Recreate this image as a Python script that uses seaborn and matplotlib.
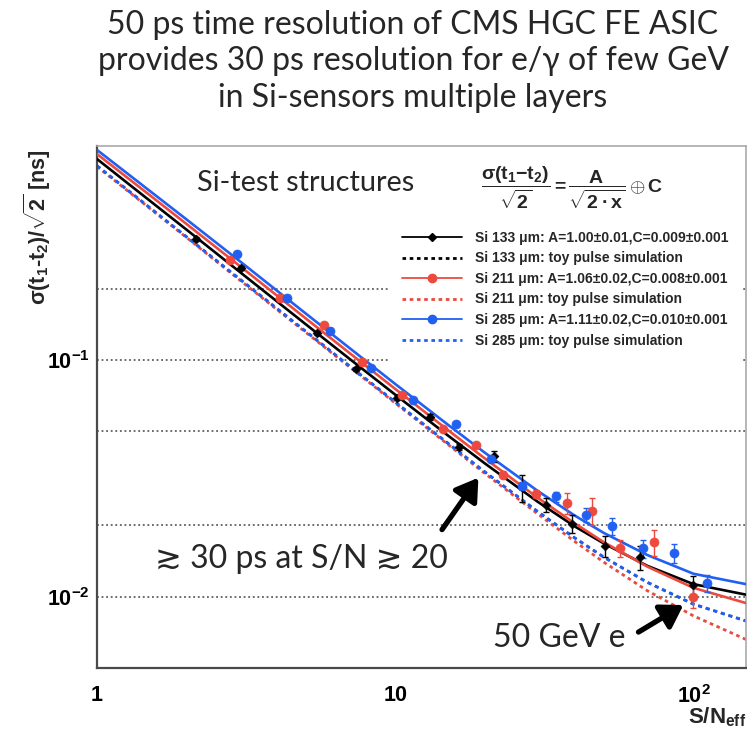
import numpy as np
import pandas as pd
import matplotlib
matplotlib.use("Agg")
import matplotlib.pyplot as plt
import seaborn as sns
from matplotlib.lines import Line2D
from matplotlib.ticker import FixedLocator, FixedFormatter, NullFormatter

# ---------------- data ----------------
curve_x = [1, 1.5, 2, 3, 5, 7, 10, 15, 20, 30, 40, 50, 70, 100, 150]
fit133 = [0.705, 0.471, 0.354, 0.236, 0.1417, 0.1014, 0.0713, 0.0480, 0.0365, 0.0252, 0.0198, 0.0168, 0.0135, 0.0113, 0.0102]
fit211 = [0.740, 0.497, 0.374, 0.250, 0.1500, 0.1073, 0.0754, 0.0506, 0.0383, 0.0262, 0.0204, 0.0170, 0.0134, 0.0109, 0.0094]
fit285 = [0.770, 0.518, 0.391, 0.262, 0.1573, 0.1126, 0.0791, 0.0533, 0.0405, 0.0280, 0.0220, 0.0186, 0.0150, 0.0125, 0.0113]
toy133 = [0.660, 0.440, 0.330, 0.220, 0.1322, 0.0945, 0.0663, 0.0445, 0.0336, 0.0229, 0.0177, 0.0147, 0.0115, 0.0093, 0.0079]
toy211 = [0.655, 0.437, 0.328, 0.218, 0.1310, 0.0937, 0.0657, 0.0440, 0.0331, 0.0224, 0.0171, 0.0140, 0.0106, 0.0083, 0.0066]
toy285 = [0.660, 0.440, 0.330, 0.220, 0.1322, 0.0945, 0.0663, 0.0445, 0.0336, 0.0229, 0.0177, 0.0147, 0.0115, 0.0093, 0.0079]

si133_x = [2.15, 3.04, 5.47, 7.41, 10.1, 13.1, 16.4, 21.4, 26.6, 32.0, 39.2, 50.4, 66.4, 100]
si133_y = [0.324, 0.244, 0.130, 0.0914, 0.069, 0.0575, 0.043, 0.0392, 0.029, 0.0245, 0.0203, 0.0164, 0.0147, 0.0112]
si133_err = [0.006, 0.005, 0.003, 0.002, 0.0015, 0.0015, 0.0012, 0.002, 0.0038, 0.0017, 0.0018, 0.0017, 0.0017, 0.0010]

si211_x = [2.80, 4.10, 5.76, 7.75, 10.5, 14.5, 18.7, 23.0, 29.7, 37.6, 45.7, 56.6, 73.6, 99.7]
si211_y = [0.264, 0.182, 0.140, 0.0975, 0.071, 0.0512, 0.0435, 0.0328, 0.0272, 0.0249, 0.0231, 0.0160, 0.0170, 0.0100]
si211_err = [0.005, 0.004, 0.003, 0.002, 0.0015, 0.001, 0.0012, 0.001, 0.001, 0.0025, 0.0031, 0.0013, 0.0021, 0.0010]

si285_x = [2.95, 4.34, 6.04, 8.31, 11.5, 16.0, 21.0, 26.6, 34.6, 43.7, 53.3, 67.6, 86.3, 111]
si285_y = [0.280, 0.183, 0.133, 0.0925, 0.0675, 0.0534, 0.0380, 0.0294, 0.0265, 0.0222, 0.0198, 0.0160, 0.0153, 0.0114]
si285_err = [0.005, 0.004, 0.003, 0.002, 0.0015, 0.001, 0.001, 0.0012, 0.0013, 0.0015, 0.0016, 0.0014, 0.0014, 0.0009]

legend_labels = [
    "Si 133 μm: A=1.00±0.01,C=0.009±0.001",
    "Si 133 μm: toy pulse simulation",
    "Si 211 μm: A=1.06±0.02,C=0.008±0.001",
    "Si 211 μm: toy pulse simulation",
    "Si 285 μm: A=1.11±0.02,C=0.010±0.001",
    "Si 285 μm: toy pulse simulation",
]
title_lines = [
    "50 ps time resolution of CMS HGC FE ASIC",
    "provides 30 ps resolution for e/γ of few GeV",
    "in Si-sensors multiple layers",
]
xtick_vals = [1, 10, 100]
xtick_labels = [r"$1$", r"$10$", r"$10^{2}$"]
ytick_vals = [0.01, 0.1]
ytick_labels = [r"$10^{-2}$", r"$10^{-1}$"]
grid_vals = [0.01, 0.02, 0.05, 0.1, 0.2]

# ---------------- style ----------------
sns.set_theme(style="white")
plt.rcParams["font.family"] = ["Liberation Sans", "DejaVu Sans"]
plt.rcParams["mathtext.fontset"] = "custom"
plt.rcParams["mathtext.rm"] = "Liberation Sans:bold"
plt.rcParams["mathtext.it"] = "Liberation Sans:bold"
plt.rcParams["mathtext.bf"] = "Liberation Sans:bold"
plt.rcParams["mathtext.sf"] = "Liberation Sans:bold"
plt.rcParams["mathtext.default"] = "rm"

BLACK = "#000000"
RED = "#ec4a3f"
BLUE = "#2160f0"
CAL = ["Lato", "DejaVu Sans"]
DOT = (0, (1.3, 1.3))
TOP_LW = 2.2      # width of the top dotted line
UNDER_LW = 1.5    # hidden dotted line, same absolute dash length
UNDER_DOT = (0, (1.3 * TOP_LW / UNDER_LW, 1.3 * TOP_LW / UNDER_LW))

W, H = 747, 736
fig = plt.figure(figsize=(W / 100, H / 100), dpi=100)
L, R, T, B = 97, 746, 146, 668
ax = fig.add_axes([L / W, 1 - B / H, (R - L) / W, (B - T) / H])
ax.set_xscale("log")
ax.set_yscale("log")
ax.set_xlim(1, 150)
ax.set_ylim(0.005, 0.8)

for g in grid_vals:
    ax.axhline(g, color="#444444", lw=1.1, ls=(0, (1.2, 1.8)), zorder=0.5)

# toy simulations (dotted); the 133 um one lies underneath the 285 um one
sns.lineplot(x=curve_x, y=toy133, ax=ax, color=BLACK, lw=UNDER_LW, linestyle=UNDER_DOT,
             zorder=1.8, legend=False)
sns.lineplot(x=curve_x, y=toy211, ax=ax, color=RED, lw=2.0, linestyle=DOT,
             zorder=2, legend=False)
sns.lineplot(x=curve_x, y=toy285, ax=ax, color=BLUE, lw=TOP_LW, linestyle=DOT,
             zorder=2.1, legend=False)
# fits (solid)
for ys, c in [(fit133, BLACK), (fit211, RED), (fit285, BLUE)]:
    sns.lineplot(x=curve_x, y=ys, ax=ax, color=c, lw=1.9, zorder=3, legend=False)

# data points
for xs, ys, es, c, m, s in [
    (si133_x, si133_y, si133_err, BLACK, "D", 20),
    (si211_x, si211_y, si211_err, RED, "o", 42),
    (si285_x, si285_y, si285_err, BLUE, "o", 42),
]:
    ax.errorbar(xs, ys, yerr=es, fmt="none", ecolor=c, elinewidth=1.0, capsize=2.2,
                capthick=1.0, zorder=4)
    sns.scatterplot(x=xs, y=ys, ax=ax, color=c, marker=m, s=s, edgecolor=c,
                    linewidth=0.5, zorder=5, legend=False)

# axes styling
ax.xaxis.set_major_locator(FixedLocator(xtick_vals))
ax.xaxis.set_major_formatter(FixedFormatter(xtick_labels))
ax.xaxis.set_minor_locator(FixedLocator([2, 3, 4, 5, 6, 7, 8, 9, 20, 30, 40, 50, 60, 70, 80, 90]))
ax.xaxis.set_minor_formatter(NullFormatter())
ax.yaxis.set_major_locator(FixedLocator(ytick_vals))
ax.yaxis.set_major_formatter(FixedFormatter(ytick_labels))
ax.yaxis.set_minor_locator(FixedLocator([0.006, 0.007, 0.008, 0.009, 0.02, 0.03, 0.04, 0.05,
                                         0.06, 0.07, 0.08, 0.09, 0.2, 0.3, 0.4, 0.5, 0.6, 0.7]))
ax.yaxis.set_minor_formatter(NullFormatter())
ax.tick_params(which="major", direction="in", length=15, width=1.3, color="#555555",
               labelsize=15.5, labelcolor="black")
ax.tick_params(which="minor", direction="in", length=7, width=1.1, color="#666666")
ax.tick_params(axis="x", which="major", pad=12)
ax.tick_params(axis="y", which="major", pad=5)
ax.tick_params(top=False, right=False)
for side in ["left", "bottom"]:
    ax.spines[side].set_color("#4a4a4a")
    ax.spines[side].set_linewidth(1.6)
for side in ["top", "right"]:
    ax.spines[side].set_color("#aaaaaa")
    ax.spines[side].set_linewidth(1.2)

# legend
handles = [
    Line2D([], [], color=BLACK, lw=1.3, marker="D", ms=4, markeredgecolor=BLACK),
    Line2D([], [], color=BLACK, lw=2.0, ls=DOT),
    Line2D([], [], color=RED, lw=1.3, marker="o", ms=6, markeredgecolor=RED),
    Line2D([], [], color=RED, lw=2.0, ls=DOT),
    Line2D([], [], color=BLUE, lw=1.3, marker="o", ms=6, markeredgecolor=BLUE),
    Line2D([], [], color=BLUE, lw=2.0, ls=DOT),
]
leg = ax.legend(handles, legend_labels, loc="upper left",
                bbox_to_anchor=((388 - L) / (R - L), (B - 217) / (B - T)),
                frameon=True, facecolor="white", edgecolor="none", framealpha=1,
                fancybox=False, borderpad=1.0, borderaxespad=0, handlelength=4.3,
                handletextpad=0.95, labelspacing=0.47, numpoints=1,
                prop={"family": "Liberation Sans", "weight": "bold", "size": 10})
leg.set_zorder(6)

# formula
fig.text(572 / W, 1 - 188 / H,
         r"$\dfrac{\sigma(t_1\mathrm{-}t_2)}{\sqrt{2}} = \dfrac{A}{\sqrt{2\bullet x}} \oplus C$",
         ha="center", va="center", fontsize=14)

# axis labels
fig.text(37 / W, 1 - 227 / H, r"$\sigma(t_1$-$t_2)/\sqrt{2}$ [ns]", rotation=90,
         ha="center", va="center", fontsize=15.5, fontweight="bold")
fig.text(746 / W, 1 - 723 / H, r"S/N$_{\mathrm{eff}}$", ha="right", va="baseline",
         fontsize=16, fontweight="bold")

# title
for i, line in enumerate(title_lines):
    fig.text(413 / W, 1 - (34 + 36.5 * i) / H, line, ha="center", va="baseline",
             fontsize=23, family=CAL)

# annotations
fig.text(197 / W, 1 - 191 / H, "Si-test structures", ha="left", va="baseline",
         fontsize=20.8, family=CAL)
fig.text(448 / W, 1 - 568 / H, "≳ 30 ps at S/N ≳ 20", ha="right", va="baseline",
         fontsize=23, family=CAL)
fig.text(493 / W, 1 - 647 / H, "50 GeV e", ha="left", va="baseline",
         fontsize=23, family=CAL)

arrow_kw = dict(arrowstyle="-|>,head_length=0.6,head_width=0.38", lw=3.8, color="black",
                shrinkA=0, shrinkB=0, mutation_scale=22)
ax.annotate("", xy=(19.0, 0.0318), xytext=(14.35, 0.0192), arrowprops=arrow_kw, zorder=7)
ax.annotate("", xy=(92.5, 0.00922), xytext=(65.4, 0.00709), arrowprops=arrow_kw, zorder=7)

fig.savefig("out.png", dpi=100)
